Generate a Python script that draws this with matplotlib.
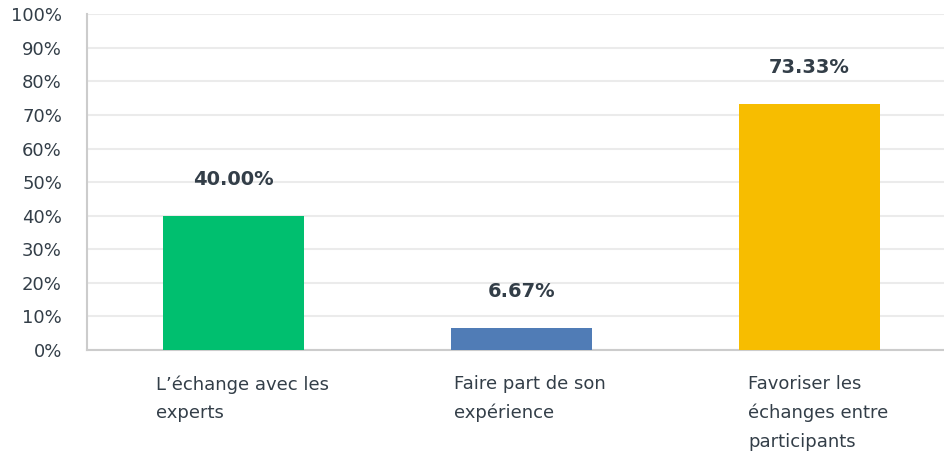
import matplotlib.pyplot as plt
from matplotlib.ticker import FuncFormatter

categories = ["L\u2019échange avec les\nexperts", "Faire part de son\nexpérience", "Favoriser les\néchanges entre\nparticipants"]
values = [40.00, 6.67, 73.33]
colors = ["#00bf6f", "#507cb6", "#f7bd00"]
yticks = list(range(0, 101, 10))

plt.rcParams['font.family'] = ['DejaVu Sans']
text_color = "#333e48"

fig = plt.figure(figsize=(9.45, 4.57), dpi=100)
ax = fig.add_axes([0.092, 0.234, 0.908, 0.735])

xs = list(range(len(values)))
ax.bar(xs, values, width=0.49, color=colors, zorder=3)

# value labels above bars
for x, v in zip(xs, values):
    ax.annotate(f"{v:.2f}%", (x, v), xytext=(0, 26), textcoords="offset points",
                ha="center", va="center", fontsize=14, fontweight="bold", color=text_color)

for x, lab in zip(xs, categories):
    ax.text(x + 0.03, -7.5, lab, ha="center", va="top", multialignment="left",
            fontsize=13, color=text_color, linespacing=1.74)

ax.set_xlim(-0.51, 2.47)
ax.set_ylim(0, 100)
ax.set_yticks(yticks)
ax.yaxis.set_major_formatter(FuncFormatter(lambda v, p: f"{int(v)}%"))
ax.set_xticks([])
ax.tick_params(axis="y", length=0, pad=18, labelsize=13, labelcolor=text_color)
ax.grid(axis="y", color="#ebebeb", linewidth=1.5, zorder=0)

for s in ["top", "right"]:
    ax.spines[s].set_visible(False)
ax.spines["left"].set_color("#cccccc")
ax.spines["left"].set_linewidth(1.5)
ax.spines["bottom"].set_color("#cccccc")
ax.spines["bottom"].set_linewidth(1.5)

fig.savefig("out.png", dpi=100)
